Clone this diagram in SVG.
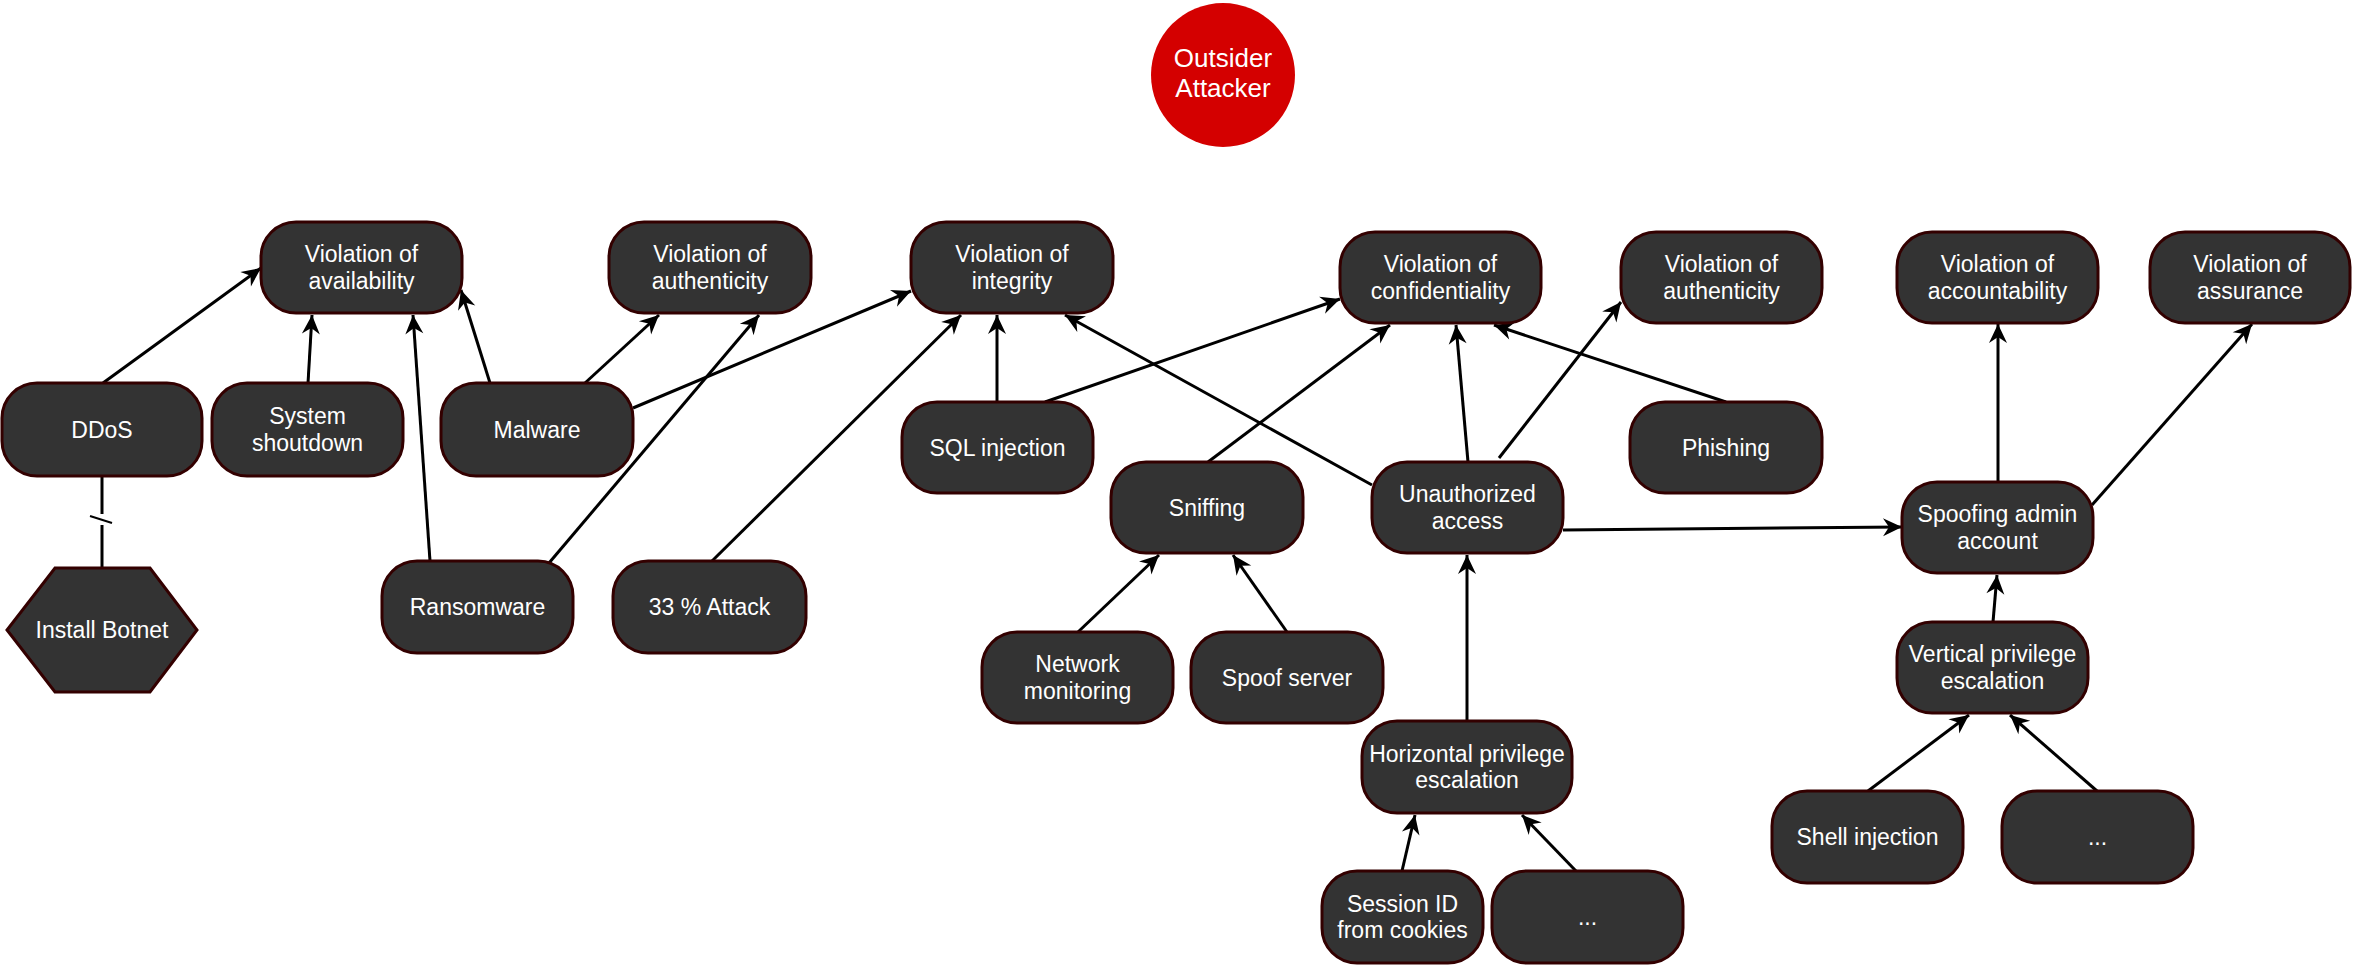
<svg xmlns="http://www.w3.org/2000/svg" width="2355" height="965" viewBox="0 0 2355 965">
<style>
.box{fill:#333333;stroke:#330000;stroke-width:3}
.lbl{font-family:"Liberation Sans",Arial,sans-serif;font-size:23px;fill:#ffffff;text-anchor:middle}
.big{font-size:26px}
.edge{stroke:#000000;stroke-width:3;fill:none;marker-end:url(#arr)}
.plain{stroke:#000000;stroke-width:3;fill:none}
</style>
<defs>
<marker id="arr" markerUnits="userSpaceOnUse" markerWidth="24" markerHeight="24" viewBox="-21 -12 24 24" refX="0" refY="0" orient="auto">
<path d="M0,0 L-19,-9 L-13,0 L-19,9 Z" fill="#000000"/>
</marker>
</defs>
<rect width="2355" height="965" fill="#ffffff"/>

<g id="connectors">
<line class="edge" x1="103" y1="383" x2="261" y2="268"/>
<line class="edge" x1="308" y1="383" x2="312" y2="315"/>
<line class="edge" x1="490" y1="383" x2="461" y2="290"/>
<line class="edge" x1="430" y1="561" x2="413" y2="315"/>
<line class="edge" x1="585" y1="383" x2="659" y2="315"/>
<line class="edge" x1="549" y1="563" x2="759" y2="315"/>
<line class="edge" x1="633" y1="408" x2="911" y2="291"/>
<line class="edge" x1="711" y1="562" x2="961" y2="315"/>
<line class="edge" x1="997" y1="402" x2="997" y2="315"/>
<line class="edge" x1="1045" y1="402" x2="1340" y2="299"/>
<line class="edge" x1="1372" y1="485" x2="1065" y2="315"/>
<line class="edge" x1="1208" y1="462" x2="1390" y2="325"/>
<line class="edge" x1="1078" y1="632" x2="1159" y2="555"/>
<line class="edge" x1="1287" y1="632" x2="1233" y2="555"/>
<line class="edge" x1="1468" y1="462" x2="1456" y2="325"/>
<line class="edge" x1="1499" y1="458" x2="1621" y2="302"/>
<line class="edge" x1="1726" y1="402" x2="1494" y2="325"/>
<line class="edge" x1="1563" y1="530" x2="1902" y2="527"/>
<line class="edge" x1="1467" y1="721" x2="1467" y2="555"/>
<line class="edge" x1="1402" y1="871" x2="1415" y2="815"/>
<line class="edge" x1="1576" y1="871" x2="1522" y2="815"/>
<line class="edge" x1="1998" y1="482" x2="1998" y2="324"/>
<line class="edge" x1="2092" y1="505" x2="2252" y2="324"/>
<line class="edge" x1="1993" y1="622" x2="1997" y2="575"/>
<line class="edge" x1="1868" y1="791" x2="1969" y2="715"/>
<line class="edge" x1="2097" y1="791" x2="2010" y2="715"/>
<line class="plain" x1="102" y1="476" x2="102" y2="514"/>
<line class="plain" x1="102" y1="525" x2="102" y2="568"/>
<line x1="90" y1="516" x2="112" y2="523" stroke="#000000" stroke-width="2"/>
</g>

<g id="outsider">
<circle cx="1223" cy="75" r="72" fill="#d40000"/>
<text class="lbl big" x="1223" y="67">Outsider</text>
<text class="lbl big" x="1223" y="97">Attacker</text>
</g>

<g id="viol_availability">
<rect class="box" x="261" y="222" width="201" height="91" rx="35" ry="35"/>
<text class="lbl" x="361.5" y="262">Violation of</text>
<text class="lbl" x="361.5" y="288.5">availability</text>
</g>
<g id="viol_authenticity1">
<rect class="box" x="609" y="222" width="202" height="91" rx="35" ry="35"/>
<text class="lbl" x="710" y="262">Violation of</text>
<text class="lbl" x="710" y="288.5">authenticity</text>
</g>
<g id="viol_integrity">
<rect class="box" x="911" y="222" width="202" height="91" rx="35" ry="35"/>
<text class="lbl" x="1012" y="262">Violation of</text>
<text class="lbl" x="1012" y="288.5">integrity</text>
</g>
<g id="viol_confidentiality">
<rect class="box" x="1340" y="232" width="201" height="91" rx="35" ry="35"/>
<text class="lbl" x="1440.5" y="272">Violation of</text>
<text class="lbl" x="1440.5" y="298.5">confidentiality</text>
</g>
<g id="viol_authenticity2">
<rect class="box" x="1621" y="232" width="201" height="91" rx="35" ry="35"/>
<text class="lbl" x="1721.5" y="272">Violation of</text>
<text class="lbl" x="1721.5" y="298.5">authenticity</text>
</g>
<g id="viol_accountability">
<rect class="box" x="1897" y="232" width="201" height="91" rx="35" ry="35"/>
<text class="lbl" x="1997.5" y="272">Violation of</text>
<text class="lbl" x="1997.5" y="298.5">accountability</text>
</g>
<g id="viol_assurance">
<rect class="box" x="2150" y="232" width="200" height="91" rx="35" ry="35"/>
<text class="lbl" x="2250" y="272">Violation of</text>
<text class="lbl" x="2250" y="298.5">assurance</text>
</g>

<g id="ddos">
<rect class="box" x="2" y="383" width="200" height="93" rx="35" ry="35"/>
<text class="lbl" x="102" y="437.5">DDoS</text>
</g>
<g id="system_shutdown">
<rect class="box" x="212" y="383" width="191" height="93" rx="35" ry="35"/>
<text class="lbl" x="307.5" y="424">System</text>
<text class="lbl" x="307.5" y="450.5">shoutdown</text>
</g>
<g id="malware">
<rect class="box" x="441" y="383" width="192" height="93" rx="35" ry="35"/>
<text class="lbl" x="537" y="437.5">Malware</text>
</g>
<g id="sql_injection">
<rect class="box" x="902" y="402" width="191" height="91" rx="35" ry="35"/>
<text class="lbl" x="997.5" y="455.5">SQL injection</text>
</g>
<g id="sniffing">
<rect class="box" x="1111" y="462" width="192" height="91" rx="35" ry="35"/>
<text class="lbl" x="1207" y="515.5">Sniffing</text>
</g>
<g id="unauthorized_access">
<rect class="box" x="1372" y="462" width="191" height="91" rx="35" ry="35"/>
<text class="lbl" x="1467.5" y="502">Unauthorized</text>
<text class="lbl" x="1467.5" y="528.5">access</text>
</g>
<g id="phishing">
<rect class="box" x="1630" y="402" width="192" height="91" rx="35" ry="35"/>
<text class="lbl" x="1726" y="455.5">Phishing</text>
</g>
<g id="spoofing_admin">
<rect class="box" x="1902" y="482" width="191" height="91" rx="35" ry="35"/>
<text class="lbl" x="1997.5" y="522">Spoofing admin</text>
<text class="lbl" x="1997.5" y="548.5">account</text>
</g>
<g id="install_botnet">
<polygon class="box" points="55,568 150,568 197,630 150,692 55,692 7,630"/>
<text class="lbl" x="102" y="638">Install Botnet</text>
</g>
<g id="ransomware">
<rect class="box" x="382" y="561" width="191" height="92" rx="35" ry="35"/>
<text class="lbl" x="477.5" y="615">Ransomware</text>
</g>
<g id="attack33">
<rect class="box" x="613" y="561" width="193" height="92" rx="35" ry="35"/>
<text class="lbl" x="709.5" y="615">33 % Attack</text>
</g>
<g id="network_monitoring">
<rect class="box" x="982" y="632" width="191" height="91" rx="35" ry="35"/>
<text class="lbl" x="1077.5" y="672">Network</text>
<text class="lbl" x="1077.5" y="698.5">monitoring</text>
</g>
<g id="spoof_server">
<rect class="box" x="1191" y="632" width="192" height="91" rx="35" ry="35"/>
<text class="lbl" x="1287" y="685.5">Spoof server</text>
</g>
<g id="horizontal_priv">
<rect class="box" x="1362" y="721" width="210" height="92" rx="35" ry="35"/>
<text class="lbl" x="1467" y="761.5">Horizontal privilege</text>
<text class="lbl" x="1467" y="788">escalation</text>
</g>
<g id="vertical_priv">
<rect class="box" x="1897" y="622" width="191" height="91" rx="35" ry="35"/>
<text class="lbl" x="1992.5" y="662">Vertical privilege</text>
<text class="lbl" x="1992.5" y="688.5">escalation</text>
</g>
<g id="session_id">
<rect class="box" x="1322" y="871" width="161" height="92" rx="35" ry="35"/>
<text class="lbl" x="1402.5" y="911.5">Session ID</text>
<text class="lbl" x="1402.5" y="938">from cookies</text>
</g>
<g id="dots1">
<rect class="box" x="1492" y="871" width="191" height="92" rx="35" ry="35"/>
<text class="lbl" x="1587.5" y="925">...</text>
</g>
<g id="shell_injection">
<rect class="box" x="1772" y="791" width="191" height="92" rx="35" ry="35"/>
<text class="lbl" x="1867.5" y="845">Shell injection</text>
</g>
<g id="dots2">
<rect class="box" x="2002" y="791" width="191" height="92" rx="35" ry="35"/>
<text class="lbl" x="2097.5" y="845">...</text>
</g>
</svg>
